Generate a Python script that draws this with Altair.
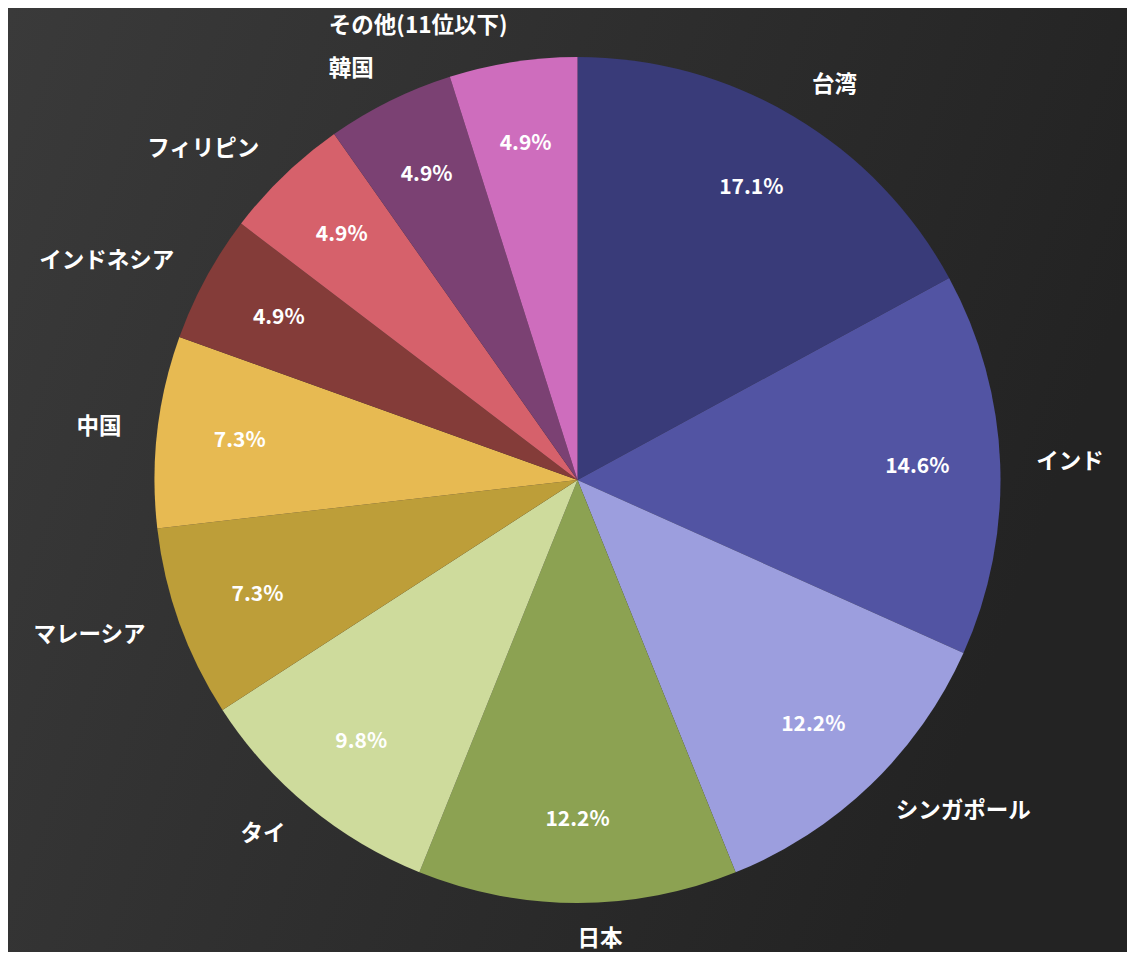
import altair as alt
import pandas as pd

names = ["台湾", "インド", "シンガポール", "日本", "タイ", "マレーシア", "中国",
         "インドネシア", "フィリピン", "韓国", "その他(11位以下)"]
counts = [7, 6, 5, 5, 4, 3, 3, 2, 2, 2, 2]
colors = ["#393b79", "#5254a3", "#9c9ede", "#8ca252", "#cedb9c", "#bd9e39",
          "#e7ba52", "#843c39", "#d6616b", "#7b4173", "#ce6dbd"]
right_side = [True, True, True, True, False, False, False, False, False, False, False]

total = sum(counts)
df = pd.DataFrame({
    "name": names,
    "count": counts,
    "idx": list(range(len(names))),
    "pct": [f"{c / total * 100:.1f}%" for c in counts],
    "lblR": [n if r else "" for n, r in zip(names, right_side)],
    "lblL": [n if not r else "" for n, r in zip(names, right_side)],
})

W, H = 1119, 944
CX, CY = 569.5, 472
R = 423
FONT = "Noto Sans CJK JP"

bg = alt.Chart(pd.DataFrame({"a": [0]})).mark_rect(
    color=alt.Gradient(
        gradient="linear",
        stops=[alt.GradientStop(color="#3a3a3a", offset=0),
               alt.GradientStop(color="#232323", offset=1)],
        x1=0, y1=0, x2=1, y2=0.3,
    )
).encode(x=alt.value(0), x2=alt.value(W), y=alt.value(0), y2=alt.value(H))

base = alt.Chart(df).encode(
    theta=alt.Theta("count:Q", stack=True),
    order=alt.Order("idx:Q"),
)

pie = base.mark_arc(outerRadius=R, x=CX, y=CY, strokeWidth=0).encode(
    color=alt.Color("name:N", scale=alt.Scale(domain=names, range=colors), legend=None)
)

pct = base.mark_text(radius=340, x=CX, y=CY, font=FONT, fontSize=21, fontWeight="bold",
                     color="white", baseline="middle", align="center").encode(
    text="pct:N")

lblR = base.mark_text(radius=459, x=CX, y=CY, font=FONT, fontSize=22.5, fontWeight="bold",
                      color="white", baseline="middle", align="left").encode(
    text="lblR:N")

lblL = base.mark_text(radius=459, x=CX, y=CY, font=FONT, fontSize=22.5, fontWeight="bold",
                      color="white", baseline="middle", align="right").encode(
    text="lblL:N")

chart = alt.layer(bg, pie, pct, lblR, lblL).properties(
    width=W, height=H,
    autosize=alt.AutoSizeParams(type="none"),
    padding=0,
    background="#2e2e2e",
).configure_view(stroke=None)

chart.save("out.html", embed_options={"renderer": "svg", "actions": False})
